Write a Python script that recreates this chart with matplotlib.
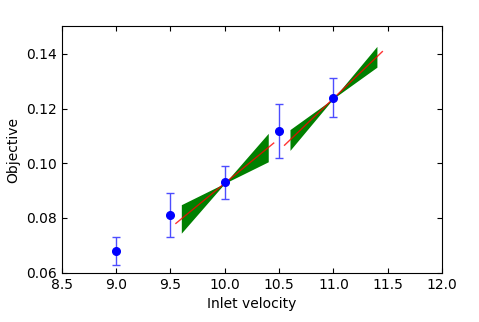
import numpy as np
import matplotlib
matplotlib.use('Agg')
import matplotlib.pyplot as plt

# measured points
velocity = [9.0, 9.5, 10.0, 10.5, 11.0]
objective = [0.068, 0.081, 0.093, 0.1117, 0.124]
err = [0.005, 0.008, 0.006, 0.0098, 0.007]

# local gradient estimates (centre, slope, slope uncertainty)
grad_x = [10.0, 11.0]
grad_y = [0.0927, 0.1237]
grad_slope = [0.0326, 0.038]
grad_err = [0.013, 0.0095]

plt.rcParams['font.size'] = 10
plt.rcParams['xtick.direction'] = 'in'
plt.rcParams['ytick.direction'] = 'in'
plt.rcParams['xtick.top'] = True
plt.rcParams['ytick.right'] = True

fig = plt.figure(figsize=(4.79, 3.22), dpi=100)
ax = fig.add_axes([0.129, 0.153, 0.794, 0.765])

for x0, y0, s, ds in zip(grad_x, grad_y, grad_slope, grad_err):
    xs = np.array([x0 - 0.4, x0 + 0.4])
    ax.fill_between(xs, y0 + (s - ds) * (xs - x0), y0 + (s + ds) * (xs - x0),
                    color='green', linewidth=0)
    xl = np.array([x0 - 0.45, x0 + 0.45])
    ax.plot(xl, y0 + s * (xl - x0), color='red', linewidth=1, alpha=0.8)

ax.errorbar(velocity, objective, yerr=err, fmt='o', color='blue', ecolor=(0.3, 0.3, 1.0),
            markersize=5.5, capsize=3, elinewidth=1)

ax.set_xlim(8.5, 12.0)
ax.set_ylim(0.06, 0.15)
ax.set_xticks(np.arange(8.5, 12.01, 0.5))
ax.set_yticks([0.06, 0.08, 0.10, 0.12, 0.14])
ax.set_xlabel('Inlet velocity')
ax.set_ylabel('Objective')

fig.savefig('out.png', dpi=100)
